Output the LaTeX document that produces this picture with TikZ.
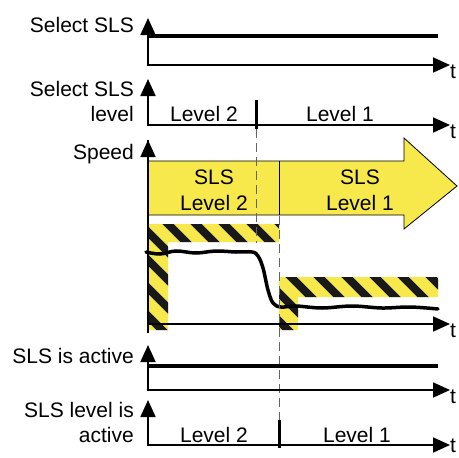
\documentclass[tikz,border=0pt]{standalone}
\usepackage{fontspec}
\setmainfont{Liberation Sans}
\usetikzlibrary{arrows.meta}
\definecolor{slsyellow}{RGB}{247, 233, 75}
\definecolor{guidegray}{RGB}{100, 100, 100}

\begin{document}
\begin{tikzpicture}[
        x=1pt, y=-1pt,
        every node/.style={font=\fontsize{21}{25}\selectfont, inner sep=0pt},
        axis/.style={{Triangle[length=17pt, width=15pt]}-{Triangle[length=17pt, width=15pt]}, line width=1.8pt},
        signal/.style={line width=4pt},
        ylabel/.style={anchor=east, align=right},
        tlabel/.style={anchor=west},
        tick/.style={line width=3pt},
        guide/.style={dashed, dash pattern=on 9pt off 5pt, line width=1pt, color=guidegray},
        band/.style={fill=slsyellow, draw=black, line width=0.8pt, line join=miter},
        stripe/.style={line width=8pt, color=black!90}
    ]
    \useasboundingbox (0,0) rectangle (459,458);

    % Select SLS
    \node[ylabel] (selsls) at (134,25) {Select SLS};
    \draw[axis] (148,18) |- (450,65);
    \node[tlabel] (t1) at (450,72) {t};
    \draw[signal] (148,36) -- (438,36);

    % Select SLS level
    \node[ylabel] (sellvl) at (134,89) {Select SLS};
    \node[ylabel] (sellvl2) at (134,114) {level};
    \draw[axis] (148,79) |- (450,125);
    \node[tlabel] (t2) at (450,132) {t};
    \draw[tick] (256,100) -- (256,129);
    \node (sl2) at (204,114) {Level 2};
    \node (sl1) at (340,114) {Level 1};

    % Speed
    \node[ylabel] (speed) at (134,154) {Speed};
    \draw[band] (148,161) -- (404,161) -- (404,138) -- (457,186) -- (404,229)
        -- (404,215) -- (148,215) -- cycle;
    \draw[line width=0.8pt] (279,161) -- (279,215);
    \node[align=center] (lvl2) at (214,190) {SLS\\[1pt]Level 2};
    \node[align=center] (lvl1) at (360,190) {SLS\\[1pt]Level 1};

    % speed limits (hatched)
    \fill[slsyellow] (148,224) -- (279,224) -- (279,242) -- (168,242) -- (168,330) -- (148,330) -- cycle;
    \begin{scope}
        \clip (148,224) -- (279,224) -- (279,242) -- (168,242) -- (168,330) -- (148,330) -- cycle;
        \foreach \s in {-220,-192,...,300}
            \draw[stripe] (\s,200) -- ++(150,150);
    \end{scope}
    \fill[slsyellow] (279,277) -- (438,277) -- (438,297) -- (298,297) -- (298,330) -- (279,330) -- cycle;
    \begin{scope}
        \clip (279,277) -- (438,277) -- (438,297) -- (298,297) -- (298,330) -- (279,330) -- cycle;
        \foreach \s in {-100,-72,...,460}
            \draw[stripe] (\s,250) -- ++(120,120);
    \end{scope}

    \draw[axis, -] (148,140) -- (148,333);
    \draw[axis, {Triangle[length=17pt, width=15pt]}-] (148,140) -- (148,160);
    \draw[axis, -{Triangle[length=17pt, width=15pt]}] (148,324) -- (450,324);
    \node[tlabel] (t3) at (450,331) {t};

    % actual speed
    \draw[line width=3.5pt, line cap=round] plot[smooth, tension=0.6] coordinates {
        (146,252) (160,254) (176,251) (196,253) (216,251) (236,252) (252,252)
        (258,256) (263,268) (268,290) (273,303) (281,307)
        (296,306) (322,308) (352,306) (382,308) (410,307) (438,309)};

    % guide lines
    \draw[guide] (256,129) -- (256,243);
    \draw[guide] (279,216) -- (279,420);

    % SLS is active
    \node[ylabel] (slsact) at (134,356) {SLS is active};
    \draw[axis] (148,345) |- (450,390);
    \node[tlabel] (t4) at (450,397) {t};
    \draw[signal] (148,366) -- (438,366);

    % SLS level is active
    \node[ylabel] (lvlact) at (134,410) {SLS level is};
    \node[ylabel] (lvlact2) at (134,435) {active};
    \draw[axis] (148,400) |- (450,445);
    \node[tlabel] (t5) at (450,446) {t};
    \draw[tick] (279,420) -- (279,448);
    \node (al2) at (214,435) {Level 2};
    \node (al1) at (357,435) {Level 1};

\end{tikzpicture}
\end{document}
